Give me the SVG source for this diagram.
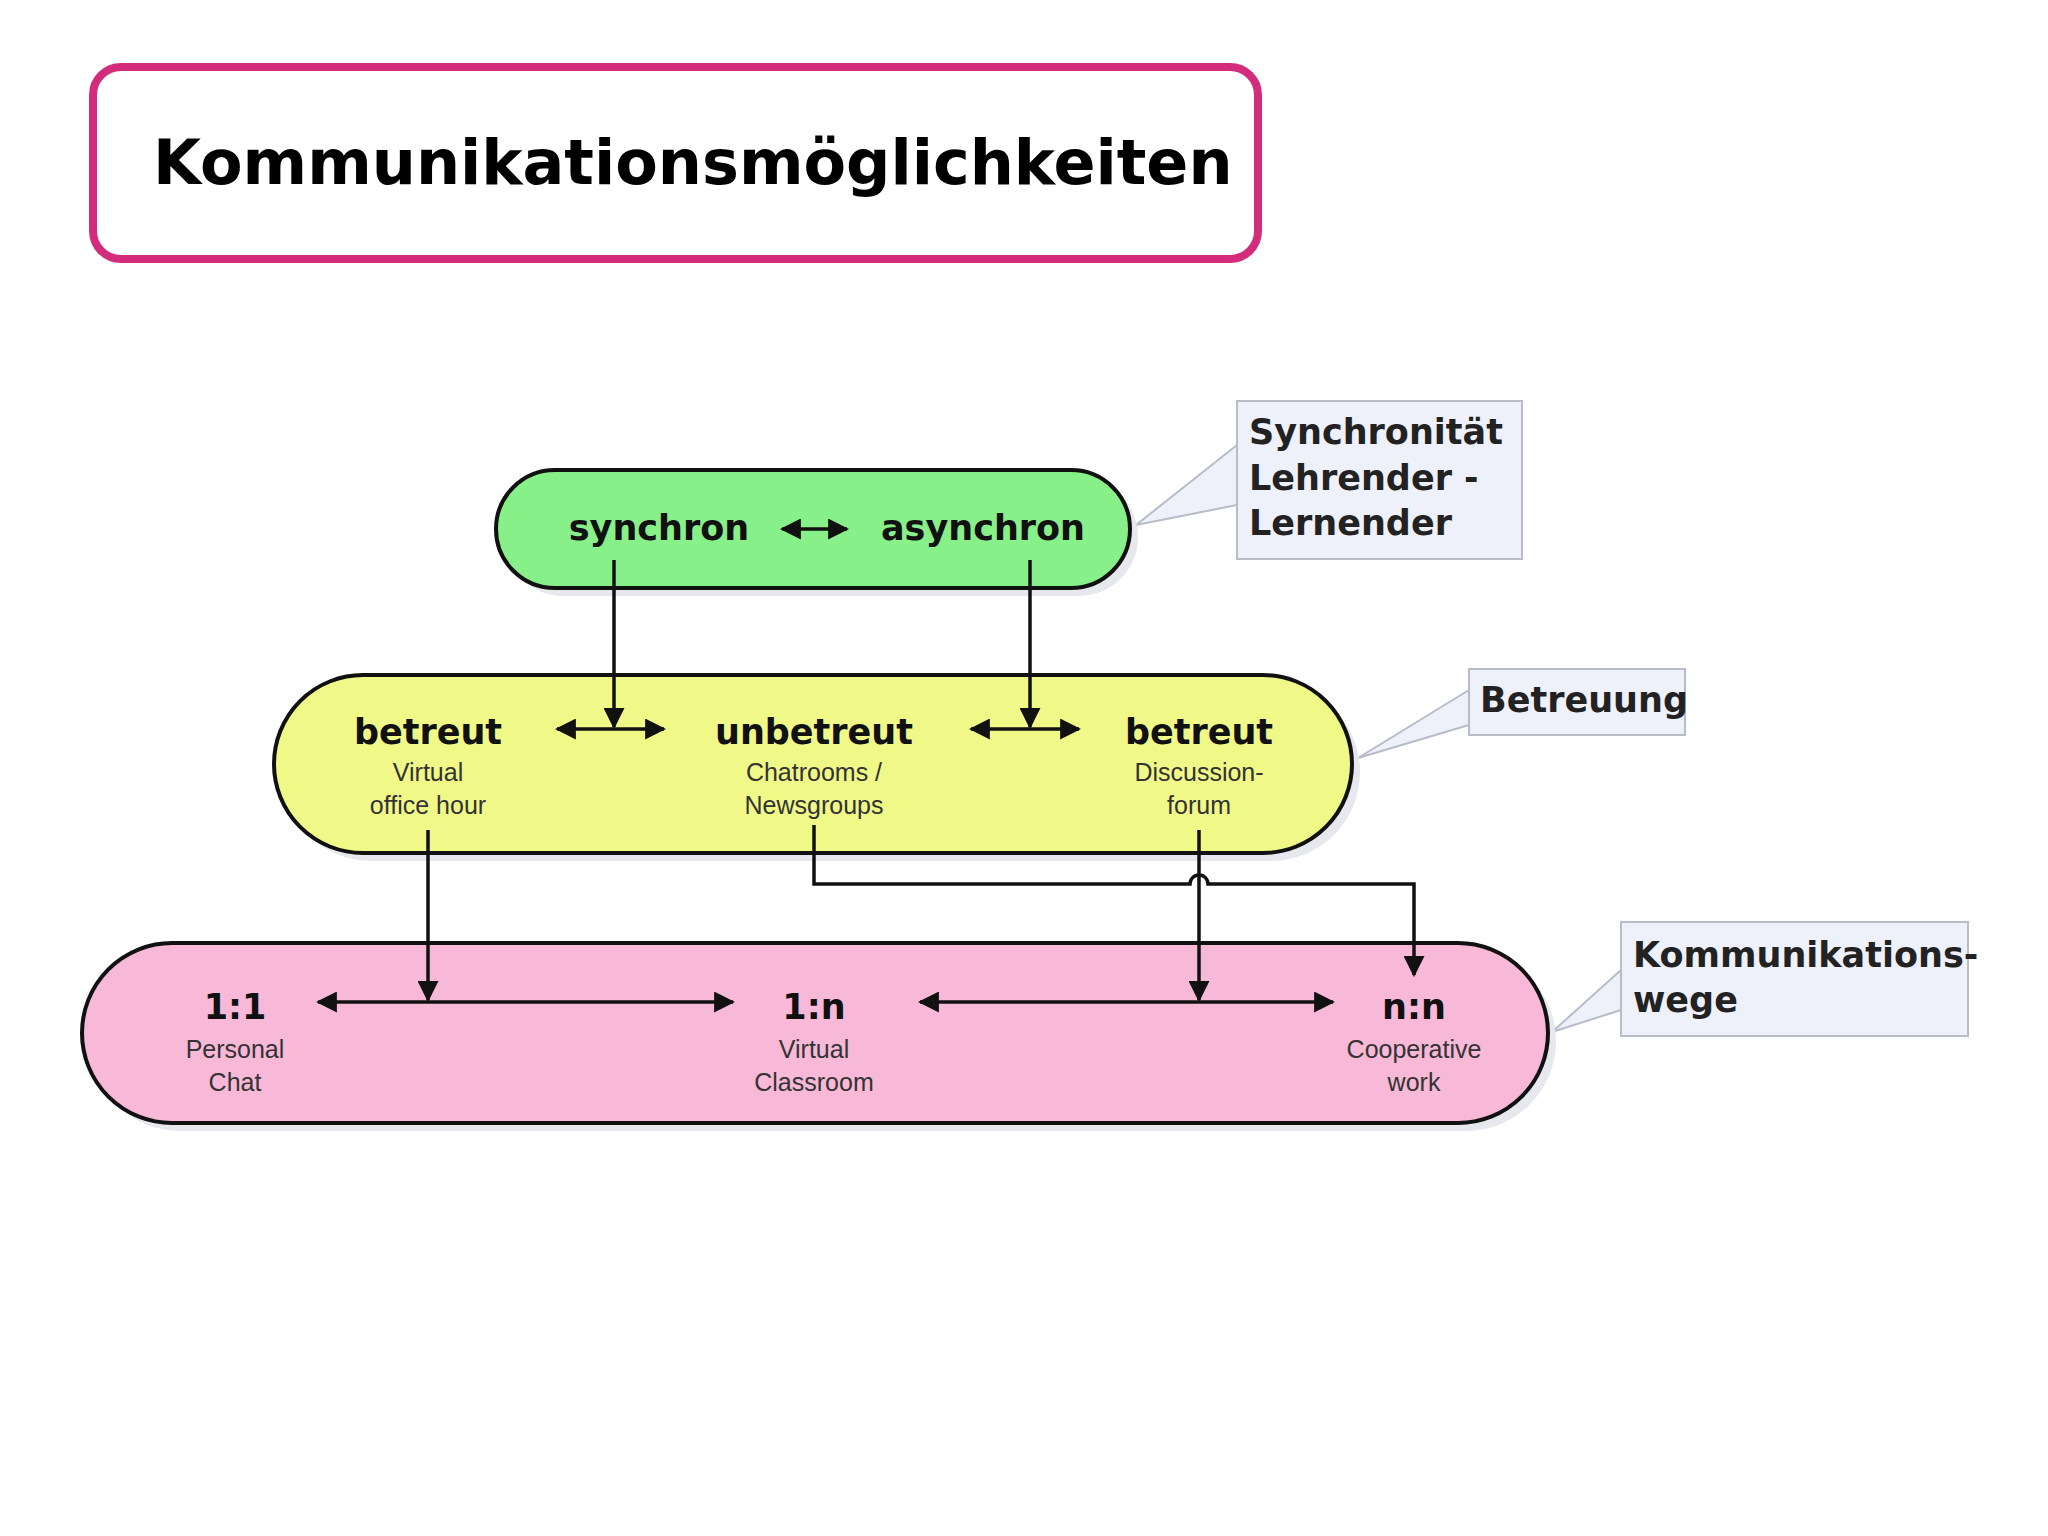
<svg xmlns="http://www.w3.org/2000/svg" width="2048" height="1536" viewBox="0 0 2048 1536">
<style>
.pill{stroke:#111;stroke-width:4}
.sh{fill:#e6e8ee}
.big{font-family:"DejaVu Sans",sans-serif;font-weight:bold;font-size:35px;fill:#111;text-anchor:middle}
.sm{font-family:"Liberation Sans",Arial,sans-serif;font-size:25px;fill:#333;text-anchor:middle}
.cb{fill:#eef0fa;stroke:#b8bcc8;stroke-width:2}
.ct{font-family:"DejaVu Sans",sans-serif;font-weight:bold;font-size:35px;fill:#222}
.ln{stroke:#111;stroke-width:3.5;fill:none}
</style>
<defs>
<marker id="ah" viewBox="0 0 10 10" refX="9" refY="5" markerWidth="6" markerHeight="6" orient="auto-start-reverse" markerUnits="strokeWidth"><path d="M0,0L10,5L0,10z" fill="#111"/></marker>
</defs>
<rect width="2048" height="1536" fill="#fff"/>
<g id="title">
<rect x="93" y="67" width="1165" height="192" rx="28" fill="#fff" stroke="#d42c7c" stroke-width="8"/>
<text x="153" y="184" font-family="DejaVu Sans,sans-serif" font-weight="bold" font-size="62" fill="#000">Kommunikationsmöglichkeiten</text>
</g>
<g id="callout-sync">
<path d="M1237,445 L1136,525 L1237,505" fill="#eef0fa" stroke="#b8bcc8" stroke-width="2"/>
<rect class="cb" x="1237" y="401" width="285" height="158"/>
<text class="ct" x="1249" y="444">Synchronität</text>
<text class="ct" x="1249" y="490">Lehrender -</text>
<text class="ct" x="1249" y="535">Lernender</text>
</g>
<g id="callout-betreuung">
<path d="M1469,690 L1358,758 L1469,725" fill="#eef0fa" stroke="#b8bcc8" stroke-width="2"/>
<rect class="cb" x="1469" y="669" width="216" height="66"/>
<text class="ct" x="1480" y="712">Betreuung</text>
</g>
<g id="callout-wege">
<path d="M1621,970 L1552,1032 L1621,1010" fill="#eef0fa" stroke="#b8bcc8" stroke-width="2"/>
<rect class="cb" x="1621" y="922" width="347" height="114"/>
<text class="ct" x="1633" y="967">Kommunikations-</text>
<text class="ct" x="1633" y="1012">wege</text>
</g>
<g id="green">
<rect class="sh" x="504" y="478" width="634" height="118" rx="59"/>
<rect class="pill" x="496" y="470" width="634" height="118" rx="59" fill="#88f088"/>
<text class="big" x="659" y="540">synchron</text>
<text class="big" x="983" y="540">asynchron</text>
</g>
<g id="yellow">
<rect class="sh" x="282" y="683" width="1078" height="178" rx="89"/>
<rect class="pill" x="274" y="675" width="1078" height="178" rx="89" fill="#f0f888"/>
<text class="big" x="428" y="744">betreut</text>
<text class="sm" x="428" y="781">Virtual</text>
<text class="sm" x="428" y="814">office hour</text>
<text class="big" x="814" y="744">unbetreut</text>
<text class="sm" x="814" y="781">Chatrooms /</text>
<text class="sm" x="814" y="814">Newsgroups</text>
<text class="big" x="1199" y="744">betreut</text>
<text class="sm" x="1199" y="781">Discussion-</text>
<text class="sm" x="1199" y="814">forum</text>
</g>
<g id="pink">
<rect class="sh" x="90" y="951" width="1466" height="180" rx="90"/>
<rect class="pill" x="82" y="943" width="1466" height="180" rx="90" fill="#f8b8d8"/>
<text class="big" x="235" y="1019">1:1</text>
<text class="sm" x="235" y="1058">Personal</text>
<text class="sm" x="235" y="1091">Chat</text>
<text class="big" x="814" y="1019">1:n</text>
<text class="sm" x="814" y="1058">Virtual</text>
<text class="sm" x="814" y="1091">Classroom</text>
<text class="big" x="1414" y="1019">n:n</text>
<text class="sm" x="1414" y="1058">Cooperative</text>
<text class="sm" x="1414" y="1091">work</text>
</g>
<g id="connectors">
<line class="ln" x1="782" y1="529" x2="847" y2="529" marker-start="url(#ah)" marker-end="url(#ah)"/>
<line class="ln" x1="557" y1="729" x2="664" y2="729" marker-start="url(#ah)" marker-end="url(#ah)"/>
<line class="ln" x1="971" y1="729" x2="1079" y2="729" marker-start="url(#ah)" marker-end="url(#ah)"/>
<line class="ln" x1="614" y1="560" x2="614" y2="727" marker-end="url(#ah)"/>
<line class="ln" x1="1030" y1="560" x2="1030" y2="727" marker-end="url(#ah)"/>
<line class="ln" x1="318" y1="1002" x2="733" y2="1002" marker-start="url(#ah)" marker-end="url(#ah)"/>
<line class="ln" x1="920" y1="1002" x2="1333" y2="1002" marker-start="url(#ah)" marker-end="url(#ah)"/>
<line class="ln" x1="428" y1="830" x2="428" y2="1000" marker-end="url(#ah)"/>
<line class="ln" x1="1199" y1="830" x2="1199" y2="1000" marker-end="url(#ah)"/>
<path class="ln" d="M814,825 V884 H1190 A9,9 0 0 1 1208,884 H1414 V975" marker-end="url(#ah)"/>
</g>
</svg>
